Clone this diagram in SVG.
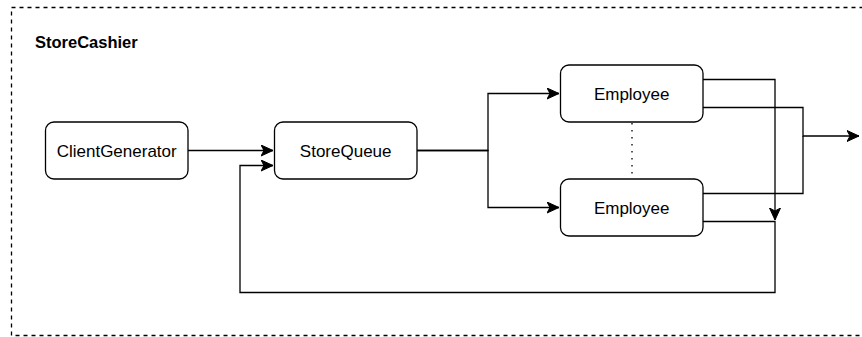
<svg xmlns="http://www.w3.org/2000/svg" width="862" height="337" viewBox="0 0 862 337">
  <style>
    .node rect { fill: #ffffff; stroke: #000000; stroke-width: 1.3; }
    .node text { font-family: "Liberation Sans", Arial, sans-serif; font-size: 17px; fill: #000000; text-anchor: middle; }
    .edge { fill: none; stroke: #000000; stroke-width: 1.3; }
    .title { font-family: "Liberation Sans", Arial, sans-serif; font-size: 16.5px; font-weight: bold; fill: #000000; }
  </style>
  <defs>
    <marker id="arrow" markerUnits="userSpaceOnUse" markerWidth="14" markerHeight="14" refX="12" refY="6" orient="auto">
      <path d="M0,0.5 L12,6 L0,11.5 L3,6 Z" fill="#000000" stroke="#000000" stroke-width="1"/>
    </marker>
  </defs>
  <rect width="862" height="337" fill="#ffffff"/>
  <g id="container">
    <rect x="11.5" y="7.5" width="860" height="328" fill="none" stroke="#000000" stroke-width="1.3" stroke-dasharray="4 4"/>
    <text class="title" x="35" y="48">StoreCashier</text>
  </g>
  <g id="connectors">
    <path class="edge" d="M188,150.5 H273" marker-end="url(#arrow)"/>
    <path class="edge" d="M417,150.5 H488 V93.5 H559" marker-end="url(#arrow)"/>
    <path class="edge" d="M417,150.5 H488 V207.5 H559" marker-end="url(#arrow)"/>
    <path class="edge" d="M703,79.5 H775 V220" marker-end="url(#arrow)"/>
    <path class="edge" d="M703,221.5 H775 V292.5 H240 V165.5 H273" marker-end="url(#arrow)"/>
    <path class="edge" d="M703,107.5 H803 V136 H859" marker-end="url(#arrow)"/>
    <path class="edge" d="M703,193.5 H803 V136"/>
    <path class="edge" d="M632,123 V179" stroke-width="1.2" stroke-dasharray="1.5 5.5"/>
  </g>
  <g id="ClientGenerator" class="node">
    <rect x="45.5" y="122" width="142.5" height="57" rx="8.5"/>
    <text x="116.7" y="156.6">ClientGenerator</text>
  </g>
  <g id="StoreQueue" class="node">
    <rect x="274.5" y="122" width="142.5" height="57" rx="8.5"/>
    <text x="345.7" y="156.6">StoreQueue</text>
  </g>
  <g id="Employee1" class="node">
    <rect x="560.5" y="65" width="142.5" height="57" rx="8.5"/>
    <text x="631.7" y="99.6">Employee</text>
  </g>
  <g id="Employee2" class="node">
    <rect x="560.5" y="179" width="142.5" height="57" rx="8.5"/>
    <text x="631.7" y="213.6">Employee</text>
  </g>
</svg>
